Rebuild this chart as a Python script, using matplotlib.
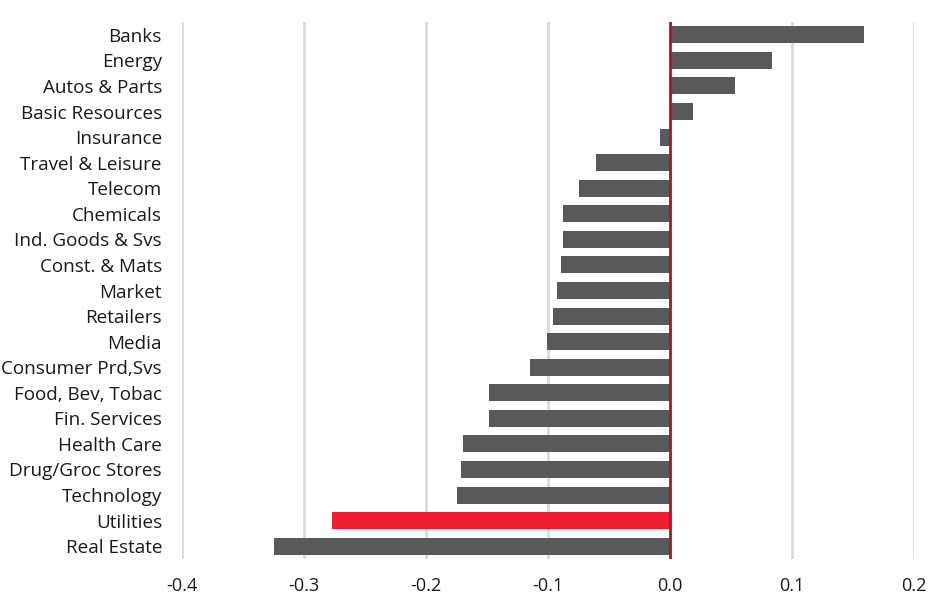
import matplotlib
matplotlib.use("Agg")
import matplotlib.pyplot as plt

categories = ["Banks", "Energy", "Autos & Parts", "Basic Resources", "Insurance",
              "Travel & Leisure", "Telecom", "Chemicals", "Ind. Goods & Svs",
              "Const. & Mats", "Market", "Retailers", "Media", "Consumer Prd,Svs",
              "Food, Bev, Tobac", "Fin. Services", "Health Care", "Drug/Groc Stores",
              "Technology", "Utilities", "Real Estate"]
values = [0.159, 0.084, 0.053, 0.019, -0.008, -0.061, -0.075, -0.088, -0.088,
          -0.089, -0.093, -0.096, -0.101, -0.115, -0.148, -0.148, -0.170, -0.171,
          -0.175, -0.277, -0.325]
highlight = "Utilities"
xticks = [-0.4, -0.3, -0.2, -0.1, 0.0, 0.1, 0.2]
xticklabels = ["-0.4", "-0.3", "-0.2", "-0.1", "0.0", "0.1", "0.2"]

plt.rcParams['font.family'] = ['Open Sans', 'DejaVu Sans']

fig = plt.figure(figsize=(9.4, 6.13), dpi=100)
ax = fig.add_axes([182/940, 1-559/613, (914-182)/940, (559-22)/613])

ypos = list(range(len(categories)))
colors = ["#ED1C2E" if c == highlight else "#58595B" for c in categories]
ax.barh(ypos, values, height=0.66, color=colors, zorder=2)
ax.axvline(0, color="#A6192E", lw=2, zorder=3)

ax.set_xlim(-0.4, 0.2)
ax.set_ylim(len(categories)-0.5, -0.5)
ax.set_xticks(xticks)
ax.set_xticklabels(xticklabels, fontsize=13, color="#1a1a1a")
ax.set_yticks(ypos)
ax.set_yticklabels(categories, fontsize=13.6, color="#1a1a1a")
ax.tick_params(axis='both', length=0)
ax.tick_params(axis='y', pad=14.4)
ax.tick_params(axis='x', pad=13)
ax.grid(axis='x', color="#D9D9D9", lw=2, zorder=0)
for s in ax.spines.values():
    s.set_visible(False)

fig.savefig("out.png", dpi=100)
